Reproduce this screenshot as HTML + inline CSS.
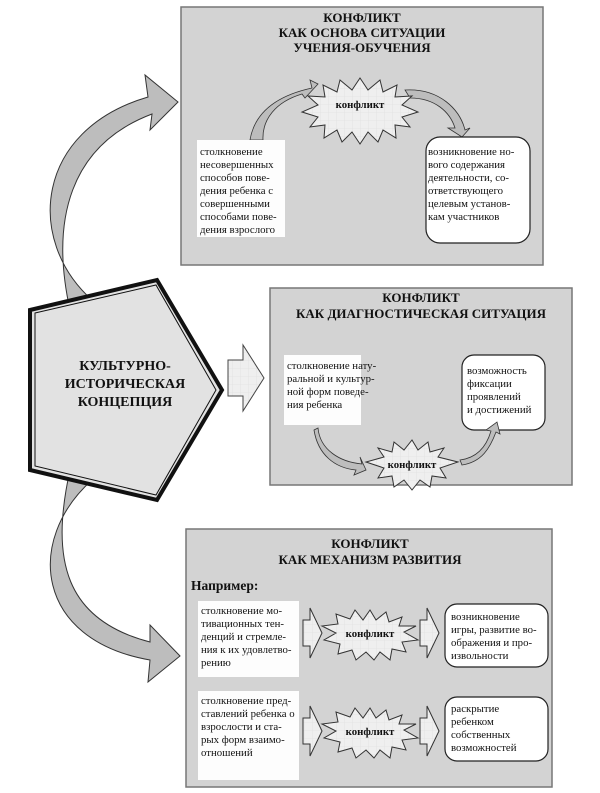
<!DOCTYPE html>
<html><head><meta charset="utf-8"><style>
body{margin:0;width:600px;height:793px;background:#fff;overflow:hidden}
svg{position:absolute;left:0;top:0}
text{font-family:"Liberation Serif",serif;fill:#111}
.t{font-weight:bold;font-size:13px}
.s{font-size:10.8px}
</style></head><body>
<svg width="600" height="793" viewBox="0 0 600 793">
<defs>
<pattern id="g" width="8" height="8" patternUnits="userSpaceOnUse"><rect width="8" height="8" fill="#efefef"/><path d="M0 0H8M0 0V8" stroke="#dcdcdc" stroke-width="0.6"/></pattern>
</defs>
<!-- curved arrows on left -->
<path d="M92 300 C 25 240, 35 130, 148 97 L 145 75 L 178 102 L 150 130 L 152 114 C 70 145, 50 220, 70 310 Z" fill="#bdbdbd" stroke="#333" stroke-width="1"/>
<path d="M92 480 C 25 540, 35 640, 150 660 L 148 682 L 180 656 L 150 625 L 150 642 C 65 620, 50 560, 70 470 Z" fill="#bdbdbd" stroke="#333" stroke-width="1"/>
<!-- boxes -->
<rect x="181" y="7" width="362" height="258" fill="#d3d3d3" stroke="#777" stroke-width="1.5"/>
<rect x="270" y="288" width="302" height="197" fill="#d3d3d3" stroke="#777" stroke-width="1.5"/>
<rect x="186" y="529" width="366" height="258" fill="#d3d3d3" stroke="#777" stroke-width="1.5"/>
<!-- pentagon -->
<polygon points="30,310 157,280 222,390 157,500 30,470" fill="#e2e2e2" stroke="#111" stroke-width="4"/>
<polygon points="35,313 156,285 216,390 156,495 35,466" fill="none" stroke="#111" stroke-width="1"/>
<text class="t" text-anchor="middle" x="125" y="370" style="font-size:14px">КУЛЬТУРНО-</text>
<text class="t" text-anchor="middle" x="125" y="388" style="font-size:14px">ИСТОРИЧЕСКАЯ</text>
<text class="t" text-anchor="middle" x="125" y="406" style="font-size:14px">КОНЦЕПЦИЯ</text>
<!-- middle block arrow -->
<polygon points="228,360 243,360 243,345 264,378 243,411 243,396 228,396" fill="url(#g)" stroke="#444"/>
<!-- Box1 -->
<text class="t" text-anchor="middle" x="362" y="22">КОНФЛИКТ</text>
<text class="t" text-anchor="middle" x="362" y="37">КАК ОСНОВА СИТУАЦИИ</text>
<text class="t" text-anchor="middle" x="362" y="52">УЧЕНИЯ-ОБУЧЕНИЯ</text>
<path d="M250 140 C 255 110, 280 95, 312 88 L 310 80 L 318 84 L 305 98 L 302 94 C 275 102, 262 120, 263 140 Z" fill="#bdbdbd" stroke="#333" stroke-width="0.8"/>
<path d="M405 90 C 440 88, 460 110, 465 130 L 470 128 L 462 137 L 448 128 L 455 128 C 450 112, 435 98, 410 98 Z" fill="#bdbdbd" stroke="#333" stroke-width="0.8"/>
<polygon points="360,78 368,90 380,80 383,92 397,85 395,97 412,96 402,105 418,112 402,117 410,127 395,125 396,138 383,130 378,142 368,132 360,144 352,132 342,142 337,130 324,138 325,125 310,127 318,117 302,112 318,105 308,96 325,97 323,85 337,92 340,80 352,90" fill="url(#g)" stroke="#333"/>
<text class="s" font-weight="bold" text-anchor="middle" x="360" y="108">конфликт</text>
<rect x="197" y="140" width="88" height="97" fill="#fdfdfd"/>
<text x="200" y="155" class="s">столкновение</text><text x="200" y="168" class="s">несовершенных</text><text x="200" y="181" class="s">способов пове-</text><text x="200" y="194" class="s">дения ребенка с</text><text x="200" y="207" class="s">совершенными</text><text x="200" y="220" class="s">способами пове-</text><text x="200" y="233" class="s">дения взрослого</text>
<rect x="426" y="137" width="104" height="106" rx="14" fill="#fff" stroke="#222" stroke-width="1.2"/>
<text x="428" y="155" class="s">возникновение но-</text><text x="428" y="168" class="s">вого содержания</text><text x="428" y="181" class="s">деятельности, со-</text><text x="428" y="194" class="s">ответствующего</text><text x="428" y="207" class="s">целевым установ-</text><text x="428" y="220" class="s">кам участников</text>
<!-- Box2 -->
<text class="t" text-anchor="middle" x="421" y="302">КОНФЛИКТ</text>
<text class="t" text-anchor="middle" x="421" y="318">КАК ДИАГНОСТИЧЕСКАЯ СИТУАЦИЯ</text>
<rect x="284" y="355" width="77" height="70" fill="#fdfdfd"/>
<text x="287" y="369" class="s">столкновение нату-</text><text x="287" y="382" class="s">ральной и культур-</text><text x="287" y="395" class="s">ной форм поведе-</text><text x="287" y="408" class="s">ния ребенка</text>
<rect x="462" y="355" width="83" height="75" rx="12" fill="#fff" stroke="#222" stroke-width="1.2"/>
<text x="467" y="374" class="s">возможность</text><text x="467" y="387" class="s">фиксации</text><text x="467" y="400" class="s">проявлений</text><text x="467" y="413" class="s">и достижений</text>
<path d="M318 428 C 320 450, 340 462, 362 464 L 360 457 L 366 470 L 354 475 L 356 470 C 335 468, 318 455, 314 430 Z" fill="#bdbdbd" stroke="#333" stroke-width="0.8"/>
<path d="M462 465 C 482 462, 490 448, 496 432 L 500 434 L 497 422 L 486 430 L 491 431 C 486 448, 476 458, 460 460 Z" fill="#bdbdbd" stroke="#333" stroke-width="0.8"/>
<polygon points="412,440 418,450 428,442 430,452 444,448 438,457 458,462 440,468 446,478 432,476 430,487 420,480 412,490 404,480 394,487 392,476 378,478 384,468 366,462 384,457 378,448 392,452 394,442 404,450" fill="url(#g)" stroke="#333"/>
<text class="s" font-weight="bold" text-anchor="middle" x="412" y="468">конфликт</text>
<!-- Box3 -->
<text class="t" text-anchor="middle" x="370" y="548">КОНФЛИКТ</text>
<text class="t" text-anchor="middle" x="370" y="564">КАК МЕХАНИЗМ РАЗВИТИЯ</text>
<text x="191" y="590" style="font-weight:bold;font-size:13.5px">Например:</text>
<rect x="198" y="601" width="101" height="76" fill="#fdfdfd"/>
<text x="201" y="614" class="s">столкновение мо-</text><text x="201" y="627" class="s">тивационных тен-</text><text x="201" y="640" class="s">денций и стремле-</text><text x="201" y="653" class="s">ния к их удовлетво-</text><text x="201" y="666" class="s">рению</text>
<rect x="198" y="691" width="101" height="89" fill="#fdfdfd"/>
<text x="201" y="704" class="s">столкновение пред-</text><text x="201" y="717" class="s">ставлений ребенка о</text><text x="201" y="730" class="s">взрослости и ста-</text><text x="201" y="743" class="s">рых форм взаимо-</text><text x="201" y="756" class="s">отношений</text>
<rect x="445" y="604" width="103" height="63" rx="12" fill="#fff" stroke="#222" stroke-width="1.2"/>
<text x="451" y="620" class="s">возникновение</text><text x="451" y="633" class="s">игры, развитие во-</text><text x="451" y="646" class="s">ображения и про-</text><text x="451" y="659" class="s">извольности</text>
<rect x="445" y="697" width="103" height="64" rx="12" fill="#fff" stroke="#222" stroke-width="1.2"/>
<text x="451" y="712" class="s">раскрытие</text><text x="451" y="725" class="s">ребенком</text><text x="451" y="738" class="s">собственных</text><text x="451" y="751" class="s">возможностей</text>
<g id="row">
<polygon points="303,620 310,620 310,608 322,633 310,658 310,646 303,646" fill="url(#g)" stroke="#333"/>
<polygon points="420,620 427,620 427,608 439,633 427,658 427,646 420,646" fill="url(#g)" stroke="#333"/>
<polygon points="370,610 376,620 386,612 389,622 402,617 399,626 416,626 404,632 418,640 402,642 406,652 392,649 390,660 380,652 374,660 366,652 356,660 352,650 338,654 340,644 324,640 336,633 322,626 338,624 336,614 350,619 355,610 363,620" fill="url(#g)" stroke="#333"/>
<text class="s" font-weight="bold" text-anchor="middle" x="370" y="637">конфликт</text>
</g>
<use href="#row" transform="translate(0,98)"/>
</svg>
</body></html>
